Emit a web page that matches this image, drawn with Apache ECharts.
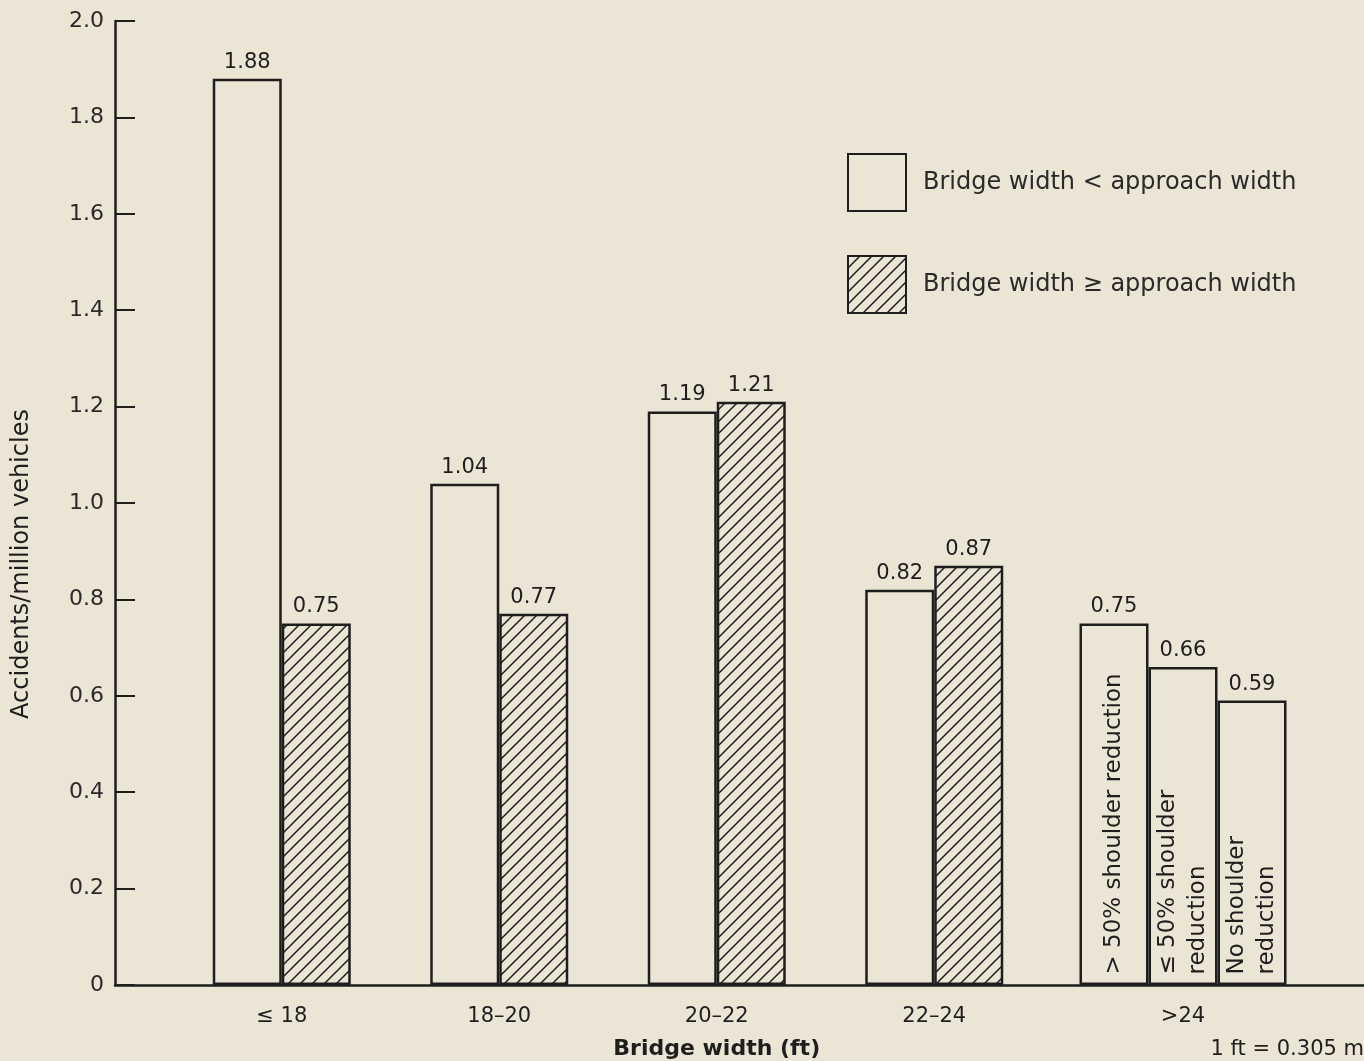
<!DOCTYPE html>
<html><head><meta charset="utf-8">
<script src="https://cdn.jsdelivr.net/npm/echarts@6/dist/echarts.min.js"></script>
<style>html,body{margin:0;padding:0;background:#ebe5d6;}#c{width:1364px;height:1061px;}</style>
</head><body><div id="c"></div>
<script>
// ---- data ----
const categories = ['≤ 18', '18–20', '20–22', '22–24', '>24'];
const narrowerName = 'Bridge width < approach width';
const widerName = 'Bridge width ≥ approach width';
const narrowerValues = [1.88, 1.04, 1.19, 0.82, null];
const widerValues = [0.75, 0.77, 1.21, 0.87, null];
const over24Names = ['> 50% shoulder reduction', '≤ 50% shoulder\nreduction', 'No shoulder\nreduction'];
const over24Values = [0.75, 0.66, 0.59];
const yTickLabels = ['0', '0.2', '0.4', '0.6', '0.8', '1.0', '1.2', '1.4', '1.6', '1.8', '2.0'];

// ---- style ----
const BG = '#ebe5d6';
const INK = '#1e1e1e';
const FONT = 'DejaVu Sans';

function hatchPattern() {
  const s = 12;
  const c = document.createElement('canvas');
  c.width = s; c.height = s;
  const g = c.getContext('2d');
  g.fillStyle = BG; g.fillRect(0, 0, s, s);
  g.strokeStyle = '#1e1e1e'; g.lineWidth = 1.5;
  g.beginPath();
  g.moveTo(-2, s + 2); g.lineTo(s + 2, -2);
  g.moveTo(-2, 2); g.lineTo(2, -2);
  g.moveTo(s - 2, s + 2); g.lineTo(s + 2, s - 2);
  g.stroke();
  return c;
}
const hatch = { image: hatchPattern(), repeat: 'repeat' };

const valueLabel = { show: true, position: 'top', distance: 6, fontFamily: FONT, fontSize: 21, color: INK };
const barBase = { type: 'bar', barWidth: 69, barGap: '0%', label: valueLabel };

const series = [
  Object.assign({}, barBase, {
    name: narrowerName, xAxisIndex: 0, yAxisIndex: 0, data: narrowerValues,
    itemStyle: { color: BG, borderColor: INK, borderWidth: 2.5 }
  }),
  Object.assign({}, barBase, {
    name: widerName, xAxisIndex: 0, yAxisIndex: 0, data: widerValues,
    itemStyle: { color: hatch, borderColor: INK, borderWidth: 2.5 }
  })
];
over24Values.forEach((v, k) => {
  const d = categories.map((c, i) => (i === categories.length - 1 ? v : null));
  series.push(Object.assign({}, barBase, {
    name: over24Names[k], xAxisIndex: 2, yAxisIndex: 2, data: d,
    itemStyle: { color: BG, borderColor: INK, borderWidth: 2.5 },
    markPoint: {
      symbol: 'rect', symbolSize: 1, itemStyle: { color: 'rgba(0,0,0,0)' },
      data: [{ coord: [categories[categories.length - 1], 0] }],
      label: {
        show: true, formatter: over24Names[k], position: 'top', distance: 10,
        rotate: 90, align: 'left', verticalAlign: 'middle',
        fontFamily: FONT, fontSize: 23, lineHeight: 30, color: INK
      }
    }
  }));
});

const gridTop = 21, gridBottom = 76;
const option = {
  backgroundColor: BG,
  animation: false,
  title: { text: '1 ft = 0.305 m', right: 0, top: 1039, padding: 0,
    textStyle: { fontFamily: FONT, fontSize: 21, fontWeight: 'normal', color: INK } },
  legend: {
    orient: 'vertical', left: 847, top: 153, padding: 0, itemWidth: 58, itemHeight: 57, itemGap: 43,
    icon: 'rect', selectedMode: false, data: [narrowerName, widerName],
    textStyle: { fontFamily: FONT, fontSize: 24, color: '#2a2a2a', padding: [0, 0, 0, 12] }
  },
  grid: [
    { left: 173, right: 103.5, top: gridTop, bottom: gridBottom, outerBoundsMode: 'none', containLabel: false },
    { left: 115, right: 0, top: gridTop, bottom: gridBottom, outerBoundsMode: 'none', containLabel: false },
    { left: 204.25, right: 72.25, top: gridTop, bottom: gridBottom, outerBoundsMode: 'none', containLabel: false }
  ],
  xAxis: [
    { type: 'category', gridIndex: 0, data: categories,
      axisLine: { show: false }, axisTick: { show: false },
      axisLabel: { interval: 0, margin: 21, fontFamily: FONT, fontSize: 21, color: INK,
        formatter: (v, i) => (i < categories.length - 1 ? v : '') },
      name: 'Bridge width (ft)', nameLocation: 'middle', nameGap: 53,
      nameTextStyle: { fontFamily: FONT, fontSize: 22, fontWeight: 'bold', color: INK } },
    { type: 'category', gridIndex: 1, data: categories,
      axisLine: { show: true, lineStyle: { color: INK, width: 2.5 } },
      axisTick: { show: false }, axisLabel: { show: false } },
    { type: 'category', gridIndex: 2, data: categories,
      axisLine: { show: false }, axisTick: { show: false },
      axisLabel: { interval: 0, margin: 21, fontFamily: FONT, fontSize: 21, color: INK,
        formatter: (v, i) => (i === categories.length - 1 ? v : '') } }
  ],
  yAxis: [
    { type: 'value', gridIndex: 0, min: 0, max: 2, interval: 0.2, offset: 58,
      axisLine: { show: true, lineStyle: { color: INK, width: 2.5 } },
      axisTick: { show: true, inside: true, length: 20, lineStyle: { color: INK, width: 2 } },
      splitLine: { show: false },
      axisLabel: { margin: 11, fontFamily: FONT, fontSize: 22, color: '#2a2a2a',
        formatter: (v, i) => yTickLabels[i] },
      name: 'Accidents/million vehicles', nameLocation: 'middle', nameGap: 81,
      nameTextStyle: { fontFamily: FONT, fontSize: 24, color: INK, padding: [0, 122, 0, 0] } },
    { type: 'value', gridIndex: 1, min: 0, max: 2, show: false },
    { type: 'value', gridIndex: 2, min: 0, max: 2, show: false }
  ],
  series: series
};
const chart = echarts.init(document.getElementById('c'), null, { renderer: 'canvas' });
chart.setOption(option);
</script>
</body></html>
